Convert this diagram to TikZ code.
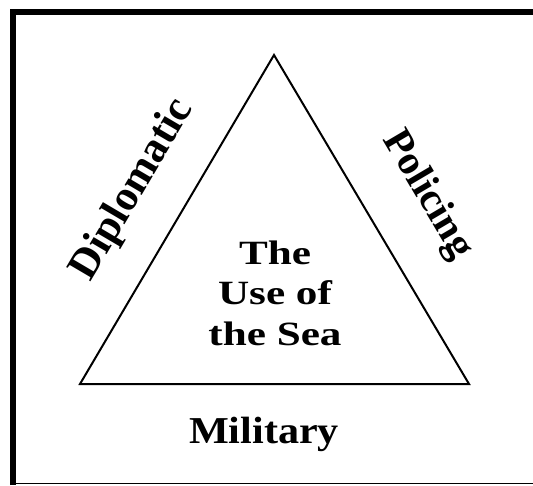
\documentclass[tikz,border=0pt]{standalone}
\usepackage{fontspec}
\setmainfont{Liberation Serif}
\begin{document}
\begin{tikzpicture}[x=1pt,y=-1pt,
  lbl/.style={font=\bfseries\fontsize{40}{44}\selectfont, inner sep=0pt},
  ctr/.style={font=\bfseries\fontsize{34}{40.5}\selectfont, align=center, inner sep=0pt, xscale=1.27},
  tri/.style={draw=black, line width=2pt, line join=miter}]
\useasboundingbox (0,0) rectangle (533,485);
% frame
\draw[line width=6pt] (13,485) -- (13,12) -- (533,12);
\draw[line width=1.5pt] (13,483.5) -- (533,483.5);
% triangle
\coordinate (top) at (274,55);
\coordinate (bl) at (80,384);
\coordinate (br) at (469,384);
\draw[tri] (top) -- (br) -- (bl) -- cycle;
% labels
\node[lbl, font=\bfseries\fontsize{38}{42}\selectfont, xscale=1.11, anchor=base] (mil) at (264,443) {Military};
\node[lbl, font=\bfseries\fontsize{43}{46}\selectfont, rotate=59.5] (dip) at (133,190) {Diplomatic};
\node[lbl, font=\bfseries\fontsize{41}{44}\selectfont, rotate=-59.5] (pol) at (427,195) {Policing};
\node[ctr, anchor=base] (use) at (275,345) {The\\Use of\\the Sea};
\end{tikzpicture}
\end{document}
